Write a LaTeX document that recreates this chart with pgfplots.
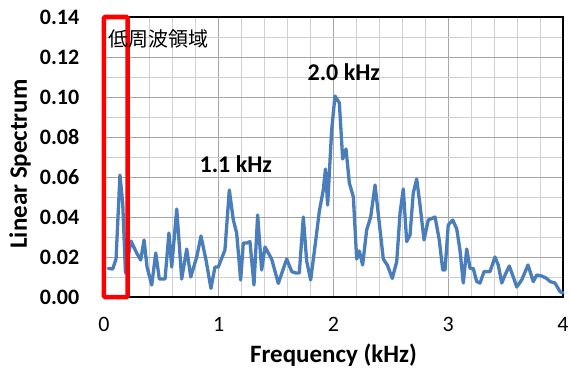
\documentclass[border=0pt]{standalone}
\usepackage{fontspec}
\setmainfont{Carlito}
\newfontfamily\jp{Noto Sans CJK JP}
\usepackage{pgfplots}
\pgfplotsset{compat=1.18}
\definecolor{lineblue}{HTML}{4A7EBB}
\definecolor{majgrid}{HTML}{A6A6A6}
\definecolor{mingrid}{HTML}{D0D0D0}
\begin{document}
\begin{tikzpicture}
\useasboundingbox (-104pt,-73pt) rectangle (466pt,297pt);
\begin{axis}[
  scale only axis,
  width=459pt, height=280pt,
  xmin=0, xmax=4, ymin=0, ymax=0.14,
  xtick={0,1,2,3,4},
  ytick={0,0.02,0.04,0.06,0.08,0.10,0.12,0.14},
  minor x tick num=4,
  minor y tick num=1,
  major tick length=0pt, minor tick length=0pt,
  grid=both,
  major grid style={draw=majgrid, line width=1pt},
  minor grid style={draw=mingrid, line width=1pt},
  axis line style={black, line width=1.5pt},
  /pgf/number format/assume math mode=true,
  yticklabel style={/pgf/number format/.cd, fixed, fixed zerofill, precision=2, /tikz/.cd,
     font=\fontsize{22}{22}\selectfont\bfseries, anchor=east, inner sep=0pt, xshift=-24.5pt},
  xticklabel style={font=\fontsize{22}{22}\selectfont, anchor=base, inner sep=0pt, yshift=-34pt},
  xlabel={Frequency (kHz)},
  ylabel={Linear Spectrum},
  xlabel style={font=\fontsize{25}{25}\selectfont\bfseries, at={(axis description cs:0.5,0)}, anchor=base, yshift=-65pt},
  ylabel style={font=\fontsize{25}{25}\selectfont\bfseries, at={(axis description cs:-0.183,0.475)}, anchor=center},
  clip=false,
]
\addplot[lineblue, line width=3.3pt, line join=round, line cap=round] table {
x y
0.037 0.0143
0.076 0.014
0.105 0.019
0.139 0.061
0.163 0.047
0.187 0.012
0.235 0.028
0.285 0.022
0.320 0.0185
0.349 0.0285
0.375 0.015
0.416 0.006
0.451 0.022
0.482 0.009
0.532 0.009
0.566 0.032
0.590 0.015
0.634 0.044
0.677 0.009
0.721 0.024
0.756 0.010
0.808 0.020
0.845 0.0305
0.889 0.0185
0.932 0.0043
0.967 0.015
0.996 0.015
1.054 0.0235
1.092 0.0535
1.127 0.0385
1.156 0.032
1.191 0.0085
1.214 0.027
1.244 0.027
1.272 0.0277
1.307 0.006
1.339 0.041
1.374 0.0135
1.403 0.025
1.461 0.019
1.519 0.0068
1.592 0.019
1.636 0.0127
1.673 0.012
1.702 0.012
1.737 0.040
1.766 0.018
1.801 0.0085
1.848 0.0295
1.876 0.0427
1.911 0.0535
1.930 0.064
1.949 0.046
1.984 0.0835
2.013 0.1005
2.051 0.097
2.080 0.069
2.109 0.074
2.138 0.057
2.173 0.050
2.202 0.019
2.225 0.023
2.254 0.016
2.289 0.0335
2.324 0.040
2.362 0.056
2.399 0.037
2.434 0.019
2.469 0.016
2.512 0.0093
2.551 0.0177
2.580 0.042
2.608 0.054
2.638 0.0277
2.667 0.031
2.695 0.052
2.725 0.059
2.754 0.046
2.789 0.0285
2.826 0.0385
2.885 0.040
2.922 0.0285
2.952 0.0135
2.972 0.0135
3.000 0.036
3.039 0.0385
3.074 0.034
3.102 0.0235
3.131 0.007
3.161 0.024
3.190 0.0143
3.218 0.0143
3.248 0.0077
3.277 0.007
3.312 0.0127
3.364 0.0127
3.407 0.020
3.436 0.016
3.466 0.007
3.495 0.011
3.532 0.0155
3.567 0.010
3.597 0.005
3.640 0.0085
3.695 0.016
3.741 0.0077
3.771 0.011
3.815 0.0105
3.858 0.0093
3.887 0.0077
3.930 0.007
3.974 0.0027
4.000 0.002
};
\draw[red, line width=4.5pt, rounded corners=1pt] (axis cs:0,0) rectangle (axis cs:0.205,0.14);
\node[anchor=west, inner sep=0pt, font=\fontsize{20}{20}\selectfont\jp] at (axis cs:0.035,0.129) {低周波領域};
\node[inner sep=0pt, font=\fontsize{24}{24}\selectfont\bfseries] at (axis cs:2.09,0.1123) {2.0 kHz};
\node[inner sep=0pt, font=\fontsize{24}{24}\selectfont\bfseries] at (axis cs:1.149,0.0665) {1.1 kHz};
\end{axis}
\end{tikzpicture}
\end{document}
